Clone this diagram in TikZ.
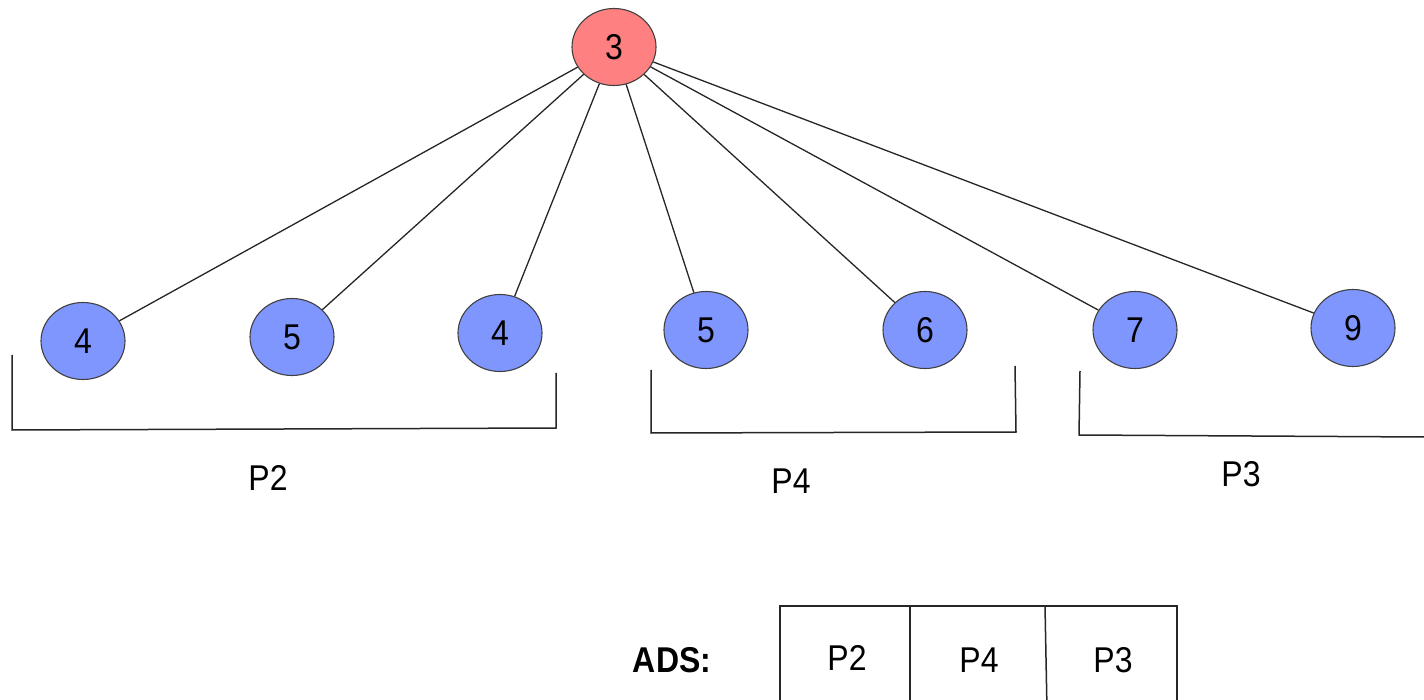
\documentclass[tikz,border=0pt]{standalone}
\usepackage{fontspec}
\setmainfont{Liberation Sans}
\usetikzlibrary{shapes.geometric}
\definecolor{nodered}{HTML}{FF8080}
\definecolor{nodeblue}{HTML}{8096FF}
\newcommand{\tx}[1]{\scalebox{1}[1.12]{\fontsize{32}{36}\selectfont #1}}
\tikzset{
  vtx/.style={ellipse, draw=black!75, line width=1.1pt, inner sep=0pt,
              minimum width=84pt, minimum height=77pt},
  bluev/.style={vtx, fill=nodeblue},
  redv/.style={vtx, fill=nodered},
  edge/.style={line width=1.3pt, black!85},
  brk/.style={line width=1.5pt, black!85},
  lbl/.style={inner sep=0pt},
}
\begin{document}
\begin{tikzpicture}[x=1pt,y=-1pt]
\useasboundingbox (0,0) rectangle (1424,700);
% root and children
\node[redv] (r) at (614,47) {\tx{3}};
\node[bluev] (a) at (83,341) {\tx{4}};
\node[bluev] (b) at (292,337) {\tx{5}};
\node[bluev] (c) at (500,333) {\tx{4}};
\node[bluev] (d) at (706,330) {\tx{5}};
\node[bluev] (e) at (925,330) {\tx{6}};
\node[bluev] (f) at (1135,330) {\tx{7}};
\node[bluev] (g) at (1353,328) {\tx{9}};
\foreach \n in {a,b,c,d,e,f,g} \draw[edge] (r) -- (\n);
% brackets
\draw[brk] (12,355) -- (12,430) -- (556,428) -- (556,373);
\draw[brk] (651,370) -- (651,433) -- (1016,432) -- (1015,366);
\coordinate (p3end) at (1424,437);
\draw[brk] (1080,371) -- (1079,435) -- (p3end);
\node[lbl] (l2) at (268,478) {\tx{P2}};
\node[lbl] (l4) at (791,481) {\tx{P4}};
\node[lbl] (l3) at (1241,474) {\tx{P3}};
% ADS table
\node[lbl] (ads) at (672,660) {\tx{\bfseries ADS:}};
\draw[brk] (780,710) -- (780,606) -- (1177,606) -- (1177,710);
\draw[brk] (910,606) -- (910,710);
\draw[brk] (1045,606) -- (1047,710);
\node[lbl] (t2) at (847,658) {\tx{P2}};
\node[lbl] (t4) at (979,660) {\tx{P4}};
\node[lbl] (t3) at (1113,660) {\tx{P3}};
\end{tikzpicture}
\end{document}
